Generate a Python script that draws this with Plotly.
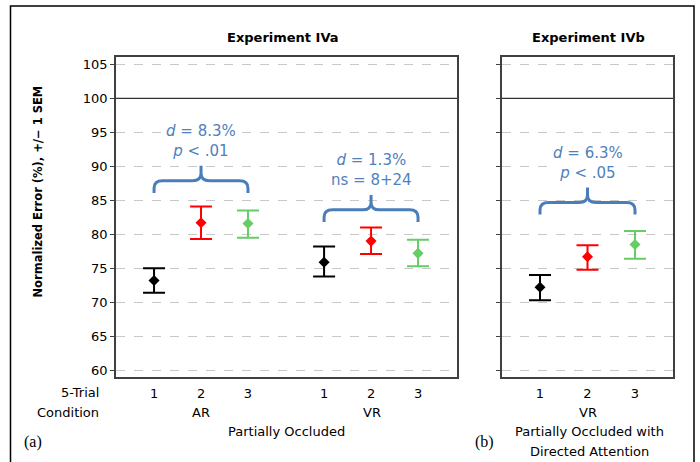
import plotly.graph_objects as go

# ---------------- data ----------------
conditions = ["1", "2", "3"]
colors = ["#000000", "#ff0000", "#66cc66"]

ar_mean = [73.2, 81.7, 81.6]
ar_hi = [75.0, 84.1, 83.5]
ar_lo = [71.4, 79.3, 79.5]

vr_mean = [75.9, 79.0, 77.2]
vr_hi = [78.2, 81.0, 79.2]
vr_lo = [73.8, 77.1, 75.3]

b_mean = [72.2, 76.7, 78.5]
b_hi = [74.0, 78.4, 80.5]
b_lo = [70.3, 74.8, 76.4]

# significance labels
brace_base = [86.1, 81.8, 82.9]
brace_text = ["<i>d</i> = 8.3%<br><i>p</i> < .01",
              "<i>d</i> = 1.3%<br>ns = 8+24",
              "<i>d</i> = 6.3%<br><i>p</i> < .05"]

y_ticks = [60, 65, 70, 75, 80, 85, 90, 95, 100, 105]

# ---------------- layout constants ----------------
W, H = 700, 462
GAP = 1.62
FONT = "DejaVu Sans"
BLUE_T = "#4f81bd"
BLUE_L = "#4a7ebb"

def px(x):
    return x / W

def py(y):
    return 1 - y / H

fig = go.Figure()

ar_x = [i + 1 for i in range(3)]
vr_x = [ar_x[-1] + GAP + i for i in range(3)]
b_x = [i + 1 for i in range(3)]

groups = [
    (ar_x, ar_mean, ar_hi, ar_lo, "x", "y"),
    (vr_x, vr_mean, vr_hi, vr_lo, "x", "y"),
    (b_x, b_mean, b_hi, b_lo, "x2", "y2"),
]

for xs, m, hi, lo, xa, ya in groups:
    for i in range(3):
        fig.add_trace(go.Scatter(
            x=[xs[i]], y=[m[i]], mode="markers",
            marker=dict(symbol="diamond", size=8.5, color=colors[i]),
            error_y=dict(type="data", symmetric=False,
                         array=[hi[i] - m[i]], arrayminus=[m[i] - lo[i]],
                         color=colors[i], thickness=2, width=11),
            xaxis=xa, yaxis=ya, showlegend=False, hoverinfo="skip"))

# braces
def brace_path(xa_, xb_, y0):
    xm = (xa_ + xb_) / 2
    y1 = y0 + 1.8
    y2 = y0 + 4.0
    rx, ry = 0.18, 1.1
    return (f"M {xa_},{y0} L {xa_},{y1-ry} Q {xa_},{y1} {xa_+rx},{y1} "
            f"L {xm-rx},{y1} Q {xm},{y1} {xm},{y1+ry} L {xm},{y2} "
            f"M {xm},{y1+ry} Q {xm},{y1} {xm+rx},{y1} "
            f"L {xb_-rx},{y1} Q {xb_},{y1} {xb_},{y1-ry} L {xb_},{y0}")

shapes = []
annotations = []
brace_groups = [(ar_x, "x", "y"), (vr_x, "x", "y"), (b_x, "x2", "y2")]
for k, (xs, xa, ya) in enumerate(brace_groups):
    shapes.append(dict(type="path", path=brace_path(xs[0], xs[-1], brace_base[k]),
                       xref=xa, yref=ya, line=dict(color=BLUE_L, width=3)))
    annotations.append(dict(x=(xs[0] + xs[-1]) / 2, y=brace_base[k] + 7.6,
                            xref=xa, yref=ya, text=brace_text[k], showarrow=False,
                            font=dict(family=FONT, size=15, color=BLUE_T),
                            bgcolor="white", borderpad=1, yanchor="middle"))

# reference line at 100
for xa, ya in [("x", "y"), ("x2", "y2")]:
    shapes.append(dict(type="line", xref=f"{xa} domain", yref=ya, x0=0, x1=1,
                       y0=100, y1=100, line=dict(color="#333333", width=1.2)))

# outer frame
shapes.append(dict(type="rect", xref="paper", yref="paper",
                   x0=px(10.5), x1=px(694), y0=py(470), y1=py(6),
                   line=dict(color="#000000", width=1.5)))

def text(x, y, s, size=13, bold=False, xanchor="center", family=FONT, color="#000000"):
    annotations.append(dict(x=px(x), y=py(y), xref="paper", yref="paper",
                            text=f"<b>{s}</b>" if bold else s, showarrow=False,
                            xanchor=xanchor, yanchor="middle",
                            font=dict(family=family, size=size, color=color)))

text(283, 37, "Experiment IVa", size=13, bold=True)
text(588, 37, "Experiment IVb", size=13, bold=True)
text(101, 392, "5-Trial", xanchor="right")
text(101, 412, "Condition", xanchor="right")
text(201, 412, "AR")
text(372, 412, "VR")
text(286, 431, "Partially Occluded")
text(588, 412, "VR")
text(589, 431, "Partially Occluded with")
text(589, 451, "Directed Attention")
text(33, 442, "(a)", size=16, family="Liberation Serif")
text(484, 442, "(b)", size=16, family="Liberation Serif")

annotations.append(dict(x=px(28), y=py(191.5), xref="paper", yref="paper",
                        text="<b>Normalized Error (%), +/\u2212 1 SEM</b>",
                        textangle=-90, showarrow=False,
                        font=dict(family=FONT, size=11.5, color="#000000")))

yaxis_common = dict(range=[59.0, 106.1], tickvals=y_ticks, showgrid=True,
                    gridcolor="#c8c8c8", griddash="dash", gridwidth=1,
                    zeroline=False, showline=True, linecolor="#404040", linewidth=1.5,
                    mirror=True, ticks="outside", ticklen=4, tickcolor="#404040",
                    domain=[py(377), py(57)])

fig.update_layout(
    width=W, height=H,
    margin=dict(l=0, r=0, t=0, b=0),
    paper_bgcolor="white", plot_bgcolor="white",
    font=dict(family=FONT, size=13, color="#000000"),
    xaxis=dict(domain=[px(116), px(457)], range=[0.19, 7.45], anchor="y",
               tickvals=ar_x + vr_x, ticktext=conditions + conditions,
               showgrid=False, zeroline=False, showline=True, linecolor="#404040",
               linewidth=1.5, mirror=True, ticks="", tickfont=dict(size=13),
               ticklabelstandoff=4),
    xaxis2=dict(domain=[px(502), px(673)], range=[0.2, 3.8], anchor="y2",
                tickvals=b_x, ticktext=conditions,
                showgrid=False, zeroline=False, showline=True, linecolor="#404040",
                linewidth=1.5, mirror=True, ticks="", tickfont=dict(size=13),
                ticklabelstandoff=4),
    yaxis=dict(**yaxis_common, anchor="x", tickfont=dict(size=13)),
    yaxis2=dict(**yaxis_common, anchor="x2", showticklabels=False),
    shapes=shapes,
    annotations=annotations,
)

fig.write_html("out.html", config={"displayModeBar": False},
               post_script="document.body.style.margin='0';document.body.style.overflow='hidden';")
